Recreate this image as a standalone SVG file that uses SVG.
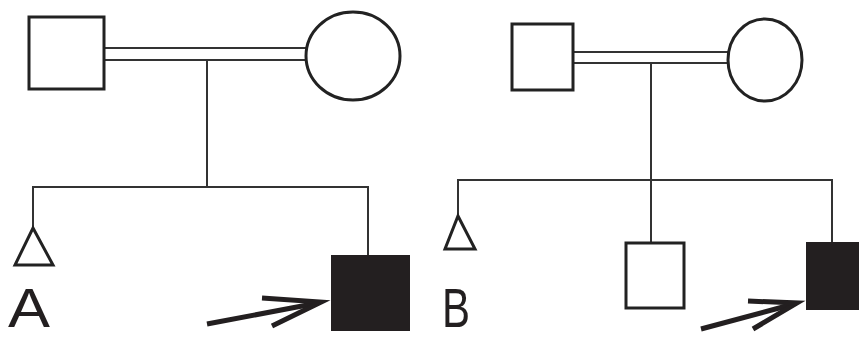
<svg xmlns="http://www.w3.org/2000/svg" width="859" height="340" viewBox="0 0 859 340">
<style>
.sym{fill:#fff;stroke:#222;stroke-width:3}
.aff{fill:#231f20;stroke:#231f20;stroke-width:2}
.ln{fill:none;stroke:#333;stroke-width:2}
.arr{fill:none;stroke:#231f20;stroke-width:5;stroke-linejoin:miter}
.lbl{font-family:"Liberation Sans",Arial,sans-serif;font-size:56px;fill:#231f20}
</style>
<rect width="859" height="340" fill="#fff"/>
<g id="connectors">
  <!-- A -->
  <line class="ln" x1="104" y1="48" x2="307" y2="48"/>
  <line class="ln" x1="104" y1="60" x2="307" y2="60"/>
  <line class="ln" x1="207" y1="60" x2="207" y2="187"/>
  <polyline class="ln" points="33,228 33,187 368,187 368,256"/>
  <!-- B -->
  <line class="ln" x1="573" y1="52" x2="729" y2="52"/>
  <line class="ln" x1="573" y1="63" x2="729" y2="63"/>
  <line class="ln" x1="651" y1="63" x2="651" y2="243"/>
  <polyline class="ln" points="458,216 458,180 832,180 832,243"/>
</g>
<g id="A-father"><rect class="sym" x="29" y="17" width="75" height="72"/></g>
<g id="A-mother"><ellipse class="sym" cx="353" cy="56" rx="47" ry="44"/></g>
<g id="A-triangle"><polygon class="sym" points="33,228 53,265 15,265"/></g>
<g id="A-proband"><rect class="aff" x="332" y="256" width="77" height="74"/></g>
<g id="A-arrow">
  <line class="arr" x1="207" y1="324" x2="318" y2="303"/>
  <polyline class="arr" points="262,298 321,302 272,326"/>
</g>
<g id="A-label"><text class="lbl" x="8" y="327" textLength="42" lengthAdjust="spacingAndGlyphs">A</text></g>
<g id="B-father"><rect class="sym" x="512" y="24" width="61" height="66"/></g>
<g id="B-mother"><ellipse class="sym" cx="765" cy="60" rx="37" ry="41"/></g>
<g id="B-triangle"><polygon class="sym" points="458,216 475,249 445,249"/></g>
<g id="B-son"><rect class="sym" x="626" y="243" width="58" height="65"/></g>
<g id="B-proband"><rect class="aff" x="807" y="243" width="60" height="66"/></g>
<g id="B-arrow">
  <line class="arr" x1="701" y1="329" x2="794" y2="304"/>
  <polyline class="arr" points="748,301 797,303 753,329"/>
</g>
<g id="B-label"><text class="lbl" x="442" y="327" textLength="28" lengthAdjust="spacingAndGlyphs">B</text></g>
</svg>
